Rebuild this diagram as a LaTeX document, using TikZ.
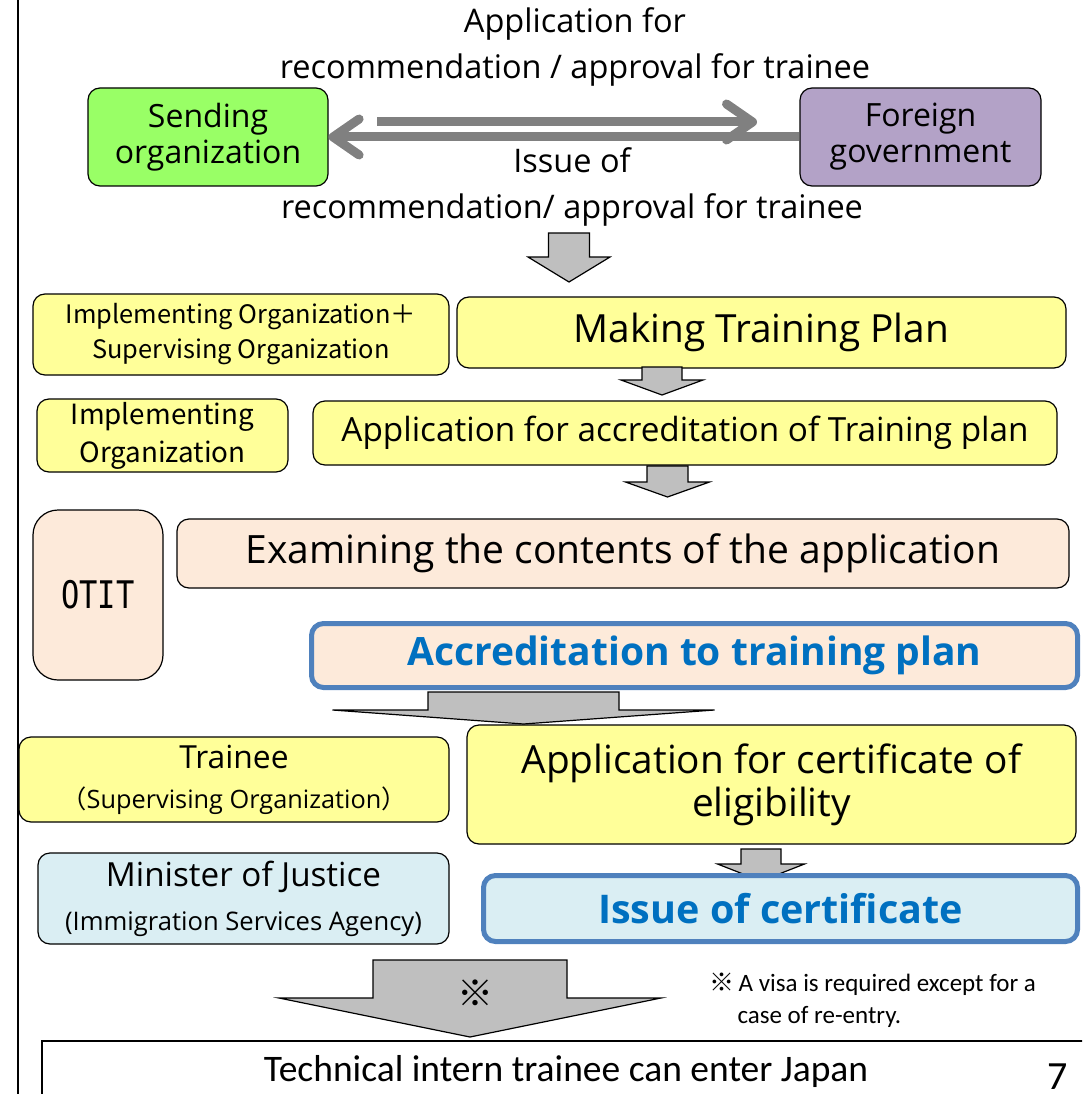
\documentclass[tikz,border=0pt]{standalone}
\usepackage{fontspec}
\setmainfont{Open Sans}
\newfontfamily\calfont{Carlito}
\newfontfamily\jpfont{Noto Sans CJK JP}
\newfontfamily\otitfont{DejaVu Sans Mono}
\usetikzlibrary{arrows.meta}
\definecolor{sendgreen}{HTML}{99FF66}
\definecolor{govpurple}{HTML}{B3A2C7}
\definecolor{planyellow}{HTML}{FFFF99}
\definecolor{otitpeach}{HTML}{FDEADA}
\definecolor{mojblue}{HTML}{DAEEF3}
\definecolor{edgeblue}{HTML}{4F81BD}
\definecolor{textblue}{HTML}{0070C0}
\definecolor{flowgray}{HTML}{808080}
\newcommand{\fs}[2]{\fontsize{#1}{#2}\selectfont}
% block arrow pointing down: centre x, top, half shaft, shoulder y, half head, tip y
\newcommand{\blockdown}[6]{%
	\draw[blockarrow] (#1-#3,#2) -- (#1+#3,#2) -- (#1+#3,#4) -- (#1+#5,#4) -- (#1,#6) -- (#1-#5,#4) -- (#1-#3,#4) -- cycle;}
\tikzset{
	box/.style={draw, rounded corners=12pt, line width=1.2pt, align=center, inner sep=0pt},
	keybox/.style={box, draw=edgeblue, line width=5pt, font=\bfseries, text=textblue},
	blockarrow/.style={draw, fill=black!25, line width=1.2pt, line join=miter},
	grayflow/.style={draw=flowgray, line width=9pt, -{Straight Barb[length=26pt, width=36pt, round]}}
}
\begin{document}
\begin{tikzpicture}[x=1pt, y=-1pt]
	\useasboundingbox (0,0) rectangle (1082,1094);
	\clip (0,0) rectangle (1082,1094);
	\draw[line width=2pt] (18,0) -- (18,1094);
	% sending / foreign government
	\node[box, fill=sendgreen, minimum width=240pt, minimum height=98pt, font=\fs{32}{36}] (sending) at (208,137) {Sending\\organization};
	\node[box, fill=govpurple, minimum width=241pt, minimum height=98pt, font=\fs{32}{36}] (foreign) at (920.5,137) {Foreign\\government};
	\coordinate (apply1) at (377,122);
	\coordinate (apply2) at (757,122);
	\draw[grayflow] (apply1) -- (apply2);
	\draw[grayflow] (foreign.west) -- (sending.east);
	\node[align=center, font=\fs{32.5}{46}] (applytxt) at (575,47) {Application for\\recommendation / approval for trainee};
	\node[align=center, font=\fs{32.5}{46}] (issuetxt) at (572,187) {Issue of\\recommendation/ approval for trainee};
	\blockdown{569}{233}{20.5}{257}{41}{282}
	% training plan
	\node[box, fill=planyellow, minimum width=416pt, minimum height=81pt, font=\jpfont\fs{25.4}{35}] (implsup) at (241,334.5) {Implementing Organization＋\\Supervising Organization};
	\node[box, fill=planyellow, minimum width=609pt, minimum height=71pt, font=\fs{38.8}{40}] (plan) at (761.5,332.5) {Making Training Plan};
	\blockdown{662}{367}{20}{380}{41}{395}
	\node[box, fill=planyellow, minimum width=251pt, minimum height=73pt, font=\jpfont\fs{27.8}{38}] (impl) at (162.5,435.5) {Implementing\\Organization};
	\node[box, fill=planyellow, minimum width=744pt, minimum height=64pt, font=\fs{33.3}{38}] (accapp) at (685,433) {Application for accreditation of Training plan};
	\blockdown{667.5}{466}{20.5}{482}{42}{497}
	% OTIT
	\node[box, fill=otitpeach, rounded corners=25pt, minimum width=130pt, minimum height=170pt, font=\otitfont\fs{38}{40}] (otit) at (98,595) {\scalebox{0.8}[1]{OTIT}};
	\node[box, fill=otitpeach, minimum width=892pt, minimum height=69pt, font=\fs{39}{42}] (exam) at (623,553.5) {Examining the contents of the application};
	\node[keybox, fill=otitpeach, minimum width=766pt, minimum height=64pt, font=\bfseries\fs{39}{42}] (accred) at (694.5,655.5) {Accreditation to training plan};
	\blockdown{523.5}{692}{95.5}{710}{191}{724}
	% certificate of eligibility
	\node[box, fill=planyellow, minimum width=430pt, minimum height=85pt, font=\fs{31.8}{40}] (trainee) at (234,779.5) {Trainee\\{\fs{25.3}{40}{\jpfont（}Supervising Organization{\jpfont）}}};
	\node[box, fill=planyellow, minimum width=609pt, minimum height=119pt, font=\fs{38.8}{43}] (coe) at (771.5,784.5) {Application for certificate of\\eligibility};
	\blockdown{761}{849}{20}{864}{43.5}{881}
	\node[box, fill=mojblue, minimum width=411pt, minimum height=91pt, font=\fs{33.2}{44}] (minister) at (243.5,898.5) {Minister of Justice\\{\fs{25.6}{44}(Immigration Services Agency)}};
	\node[keybox, fill=mojblue, minimum width=594pt, minimum height=66pt, font=\bfseries\fs{39.5}{42}] (issue) at (780.5,908.5) {Issue of certificate};
	% entry
	\blockdown{470}{960}{97}{998}{191}{1037}
	\node[font=\jpfont\fs{36}{40}] (mark) at (475,993) {※};
	\node[anchor=base west, align=left, font=\calfont\fs{25}{32}] (visanote) at (706,1023) {{\jpfont ※}\,A visa is required except for a\\\hspace*{28pt}case of re-entry.};
	\draw[line width=1.5pt] (42,1100) -- (42,1041) -- (1090,1041);
	\node[font=\calfont\fs{37.5}{40}] (enter) at (566,1071) {Technical intern trainee can enter Japan};
	\node[anchor=base, inner sep=0pt, font=\calfont\fs{40}{44}] (page) at (1058,1089) {7};
\end{tikzpicture}
\end{document}
